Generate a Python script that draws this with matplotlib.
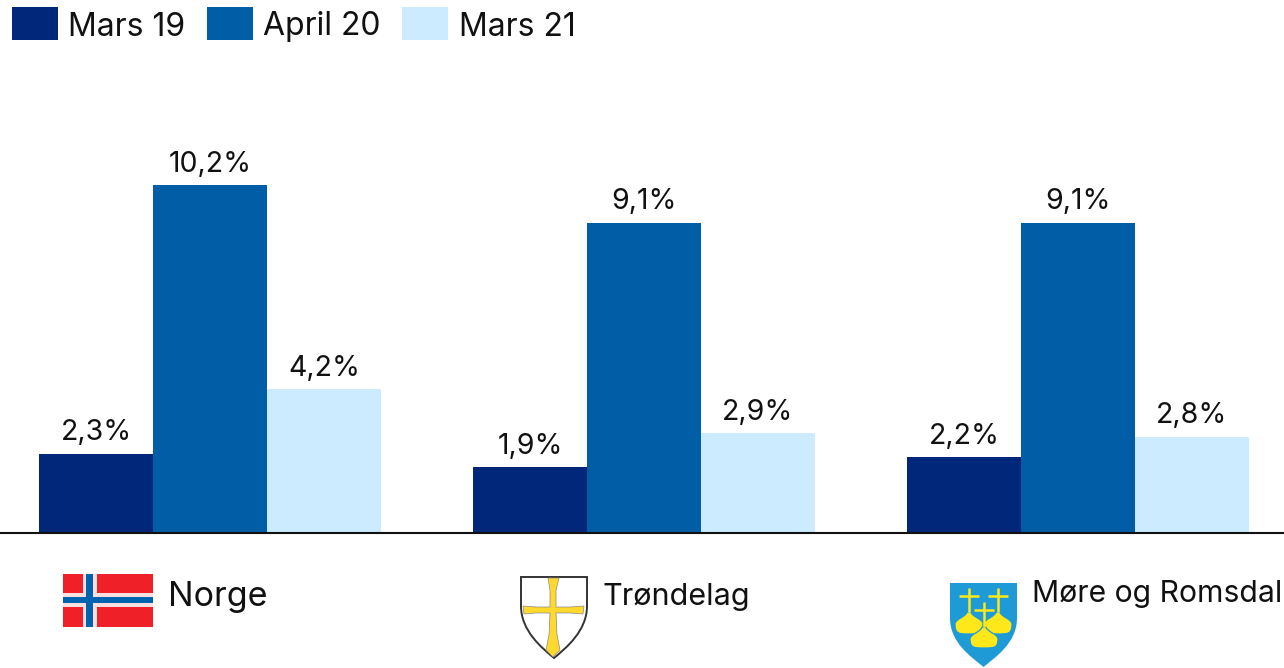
import matplotlib
matplotlib.use('Agg')
import matplotlib.pyplot as plt
from matplotlib.patches import PathPatch, Rectangle
from matplotlib.path import Path
import numpy as np

# unemployment by region
regions = ["Norge", "Trøndelag", "Møre og Romsdal"]
periods = ["Mars 19", "April 20", "Mars 21"]
mars_19 = [2.3, 1.9, 2.2]
april_20 = [10.2, 9.1, 9.1]
mars_21 = [4.2, 2.9, 2.8]
value_labels = [
    ["2,3%", "1,9%", "2,2%"],
    ["10,2%", "9,1%", "9,1%"],
    ["4,2%", "2,9%", "2,8%"],
]

colors = ["#00277A", "#005DA6", "#CCEBFF"]
FONT = "Inter"
W, H = 1284, 668

plt.rcParams['font.family'] = [FONT, 'DejaVu Sans']
fig = plt.figure(figsize=(W / 100, H / 100), dpi=100)

# main axes, baseline sits at y=532 px
ax = fig.add_axes([0, (H - 532) / H, 1, 432 / H])
group_px = 434
ax.set_xlim(-210 / group_px, (W - 210) / group_px)
ax.set_ylim(0, 432 / 34.0)
bar_w = 114 / group_px
x = np.arange(len(regions))

for i, vals in enumerate([mars_19, april_20, mars_21]):
    pos = x + (i - 1) * bar_w
    ax.bar(pos, vals, width=bar_w, color=colors[i], linewidth=0)
    for p, v, lab in zip(pos, vals, value_labels[i]):
        ax.annotate(lab, (p, v), xytext=(0, 5.5), textcoords='offset points',
                    ha='center', va='bottom', fontsize=20.5, color='#111111')

for side in ['top', 'left', 'right']:
    ax.spines[side].set_visible(False)
ax.spines['bottom'].set_linewidth(1.5)
ax.spines['bottom'].set_color('#111111')
ax.spines['bottom'].set_position(('outward', 1))
ax.set_xticks([])
ax.set_yticks([])
ax.patch.set_alpha(0)

# overlay in pixel coordinates for the legend and the emblems
ov = fig.add_axes([0, 0, 1, 1])
ov.set_xlim(0, W)
ov.set_ylim(H, 0)
ov.axis('off')
ov.patch.set_alpha(0)

# legend
for sx, tx, lab, c in zip([12, 207, 402], [68, 263, 459], periods, colors):
    ov.add_patch(Rectangle((sx, 7), 46, 33, color=c, lw=0))
    ov.text(tx, 27, lab, fontsize=23, va='center', ha='left', color='#111111')

# norwegian flag
RED, WHITE, BLUE = "#EF2028", "#F9E0E0", "#0063AF"
ov.add_patch(Rectangle((63, 574), 90, 53, color=RED, lw=0))
ov.add_patch(Rectangle((83, 574), 14, 53, color=WHITE, lw=0))
ov.add_patch(Rectangle((63, 593), 90, 14, color=WHITE, lw=0))
ov.add_patch(Rectangle((86, 574), 7, 53, color=BLUE, lw=0))
ov.add_patch(Rectangle((63, 597), 90, 6, color=BLUE, lw=0))


def shield(x0, x1, top, shoulder, tip, **kw):
    mid = (x0 + x1) / 2
    verts = [(x0, top), (x1, top), (x1, shoulder),
             (x1, shoulder + 25), (mid + 12, tip - 10), (mid, tip),
             (mid - 12, tip - 10), (x0, shoulder + 25), (x0, shoulder),
             (x0, top)]
    codes = [Path.MOVETO, Path.LINETO, Path.LINETO,
             Path.CURVE4, Path.CURVE4, Path.CURVE4,
             Path.CURVE4, Path.CURVE4, Path.CURVE4,
             Path.CLOSEPOLY]
    ov.add_patch(PathPatch(Path(verts, codes), **kw))


# trondelag shield with flared gold cross
shield(521, 587, 577, 606, 658, facecolor='white', edgecolor='#333333', lw=1.4)
YEL = "#FFD92E"
cross = [(548, 578), (559, 578), (556, 590), (556, 607), (570, 607), (584, 606),
         (583, 614), (570, 613), (556, 613), (557, 635), (560, 650), (553, 657),
         (546, 650), (549, 635), (550, 613), (536, 613), (524, 614), (523, 606),
         (536, 607), (550, 607), (550, 590), (548, 578)]
ov.add_patch(PathPatch(Path(cross), facecolor=YEL, edgecolor='#888888', lw=0.5))

# more og romsdal shield with three church domes
SKY = '#1E9AD6'
shield(950, 1017, 583, 618, 667, facecolor=SKY, edgecolor='none')
GOLD = "#FFE81A"


def dome(cx, cross_top, arm_y, neck, bottom, half):
    ov.plot([cx, cx], [cross_top, neck], color=GOLD, lw=1.8, solid_capstyle='butt')
    ov.plot([cx - 10, cx + 10], [arm_y, arm_y], color=GOLD, lw=1.8, solid_capstyle='butt')
    side = neck + 12
    verts = [(cx - 2, neck), (cx + 2, neck),
             (cx + 3, neck + 5), (cx + half, neck + 7), (cx + half, side),
             (cx + half, bottom), (cx + 10, bottom), (cx, bottom),
             (cx - 10, bottom), (cx - half, bottom), (cx - half, side),
             (cx - half, neck + 7), (cx - 3, neck + 5), (cx - 2, neck),
             (cx - 2, neck)]
    codes = [Path.MOVETO, Path.LINETO] + [Path.CURVE4] * 12 + [Path.CLOSEPOLY]
    ov.add_patch(PathPatch(Path(verts, codes), facecolor=GOLD, edgecolor=SKY, lw=0.9))


dome(969, 588, 596, 612, 634, 14)
dome(998, 588, 596, 612, 634, 14)
dome(984, 602, 610, 627, 648, 14)

# region names
for tx, ty, name, fs in zip([168, 602, 1032], [597, 597, 594], regions, [24.5, 22, 21.7]):
    ov.text(tx, ty, name, fontsize=fs, va='center', ha='left', color='#111111')

fig.savefig('out.png', dpi=100)
